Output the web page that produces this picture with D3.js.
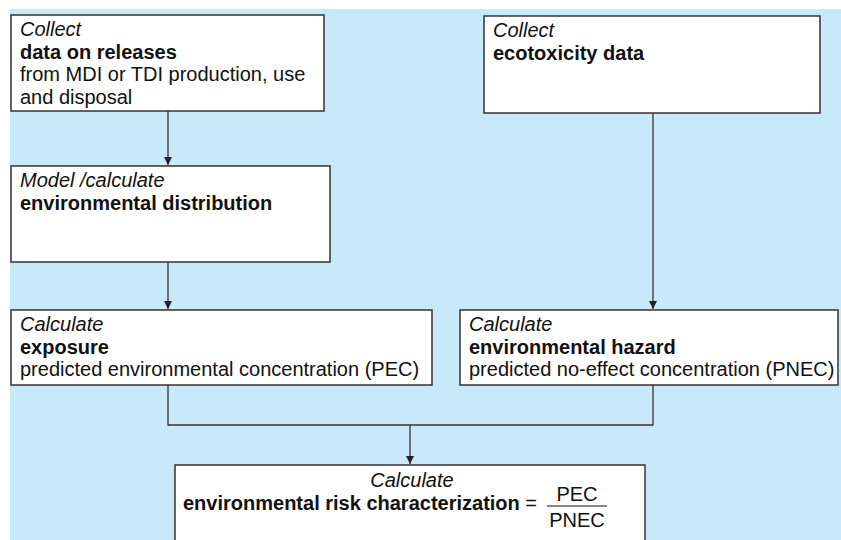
<!DOCTYPE html>
<html>
<head>
<meta charset="utf-8">
<script src="https://cdn.jsdelivr.net/npm/d3@7"></script>
<style>
  body { margin: 0; background: #fff; }
  svg { display: block; font-family: "Liberation Sans", Arial, sans-serif; }
</style>
</head>
<body>
<div id="chart"></div>
<script>
// box contents: verb (italic), subject (bold), detail lines (normal)
var boxIds = ["releases", "ecotox", "distribution", "exposure", "hazard", "risk"];
var boxVerbs = ["Collect", "Collect", "Model /calculate", "Calculate", "Calculate", "Calculate"];
var boxSubjects = ["data on releases", "ecotoxicity data", "environmental distribution",
  "exposure", "environmental hazard", "environmental risk characterization"];
var boxDetails = [
  ["from MDI or TDI production, use", "and disposal"],
  [],
  [],
  ["predicted environmental concentration (PEC)"],
  ["predicted no-effect concentration (PNEC)"],
  []
];
var ratioTop = "PEC";
var ratioBottom = "PNEC";
// arrows between boxes
var links = [["releases", "distribution"], ["distribution", "exposure"], ["ecotox", "hazard"]];
var merge = [["exposure", "hazard"], "risk"];

(function() {
  var width = 841;
  var height = 540;
  var fs = 20;

  // layout (pixels)
  var layout = {
    releases:     { x: 11,  y: 15,  w: 313, h: 96 },
    ecotox:       { x: 484, y: 16,  w: 336, h: 97 },
    distribution: { x: 11,  y: 166, w: 319, h: 96 },
    exposure:     { x: 11,  y: 310, w: 421, h: 75 },
    hazard:       { x: 460, y: 310, w: 378, h: 75 },
    risk:         { x: 175, y: 465, w: 470, h: 90 }
  };
  var stemX = { releases: 168, distribution: 168, exposure: 168, ecotox: 653, hazard: 653 };
  var joinY = 425;

  var svg = d3.select("#chart").append("svg")
    .attr("width", width)
    .attr("height", height);

  svg.append("defs").append("marker")
    .attr("id", "arrow")
    .attr("viewBox", "0 0 10 10")
    .attr("refX", 10).attr("refY", 5)
    .attr("markerWidth", 8).attr("markerHeight", 8)
    .attr("markerUnits", "userSpaceOnUse")
    .attr("orient", "auto")
    .append("path")
    .attr("d", "M0,0L10,5L0,10Z")
    .attr("fill", "#222");

  svg.append("rect")
    .attr("x", 10).attr("y", 9)
    .attr("width", width - 10).attr("height", height - 9)
    .attr("fill", "#c8e9f9");

  var boxes = boxIds.map(function(id, i) {
    return { id: id, verb: boxVerbs[i], subject: boxSubjects[i], details: boxDetails[i], pos: layout[id] };
  });

  var line = d3.line();

  // straight links
  svg.selectAll(".link")
    .data(links)
    .enter()
    .append("path")
    .attr("class", "link")
    .attr("d", function(d) {
      var a = layout[d[0]], b = layout[d[1]];
      var x = stemX[d[0]];
      return line([[x, a.y + a.h], [x, b.y - 1]]);
    })
    .attr("stroke", "#333")
    .attr("stroke-width", 1.3)
    .attr("fill", "none")
    .attr("marker-end", "url(#arrow)");

  // merging connector
  var l = layout[merge[0][0]], r = layout[merge[0][1]], t = layout[merge[1]];
  svg.append("path")
    .attr("d", line([[stemX[merge[0][0]], l.y + l.h], [stemX[merge[0][0]], joinY],
      [stemX[merge[0][1]], joinY], [stemX[merge[0][1]], r.y + r.h]]))
    .attr("stroke", "#333")
    .attr("stroke-width", 1.3)
    .attr("fill", "none");
  var midX = 410;
  svg.append("path")
    .attr("d", line([[midX, joinY], [midX, t.y - 1]]))
    .attr("stroke", "#333")
    .attr("stroke-width", 1.3)
    .attr("fill", "none")
    .attr("marker-end", "url(#arrow)");

  var g = svg.selectAll(".box")
    .data(boxes)
    .enter()
    .append("g")
    .attr("class", "box")
    .attr("transform", function(d) { return "translate(" + d.pos.x + "," + d.pos.y + ")"; });

  g.append("rect")
    .attr("width", function(d) { return d.pos.w; })
    .attr("height", function(d) { return d.pos.h; })
    .attr("fill", "#fff")
    .attr("stroke", "#333")
    .attr("stroke-width", 1.5);

  var plain = g.filter(function(d) { return d.id !== "risk"; });
  plain.append("text")
    .attr("x", 9).attr("y", 21)
    .attr("font-size", fs)
    .attr("font-style", "italic")
    .attr("fill", "#111")
    .text(function(d) { return d.verb; });
  plain.append("text")
    .attr("x", 9).attr("y", 43.5)
    .attr("font-size", fs)
    .attr("font-weight", "bold")
    .attr("fill", "#111")
    .text(function(d) { return d.subject; });
  plain.each(function(d) {
    d3.select(this).selectAll(".detail")
      .data(d.details)
      .enter()
      .append("text")
      .attr("class", "detail")
      .attr("x", 9)
      .attr("y", function(s, i) { return 66 + i * 22.5; })
      .attr("font-size", fs)
      .attr("fill", "#111")
      .text(function(s) { return s; });
  });

  // final box with fraction
  var risk = g.filter(function(d) { return d.id === "risk"; });
  risk.append("text")
    .attr("x", 237).attr("y", 22)
    .attr("text-anchor", "middle")
    .attr("font-size", fs)
    .attr("font-style", "italic")
    .attr("fill", "#111")
    .text(function(d) { return d.verb; });
  var eq = risk.append("text")
    .attr("x", 8).attr("y", 45)
    .attr("font-size", fs)
    .attr("fill", "#111");
  eq.append("tspan").attr("font-weight", "bold").text(function(d) { return d.subject; });
  eq.append("tspan").text(" =");
  var fx = 402;
  risk.append("line")
    .attr("x1", fx - 30).attr("x2", fx + 30)
    .attr("y1", 41).attr("y2", 41)
    .attr("stroke", "#111").attr("stroke-width", 1.2);
  risk.append("text")
    .attr("x", fx).attr("y", 36)
    .attr("text-anchor", "middle")
    .attr("font-size", fs)
    .attr("fill", "#111")
    .text(ratioTop);
  risk.append("text")
    .attr("x", fx).attr("y", 62)
    .attr("text-anchor", "middle")
    .attr("font-size", fs)
    .attr("fill", "#111")
    .text(ratioBottom);
})();
</script>
</body>
</html>
